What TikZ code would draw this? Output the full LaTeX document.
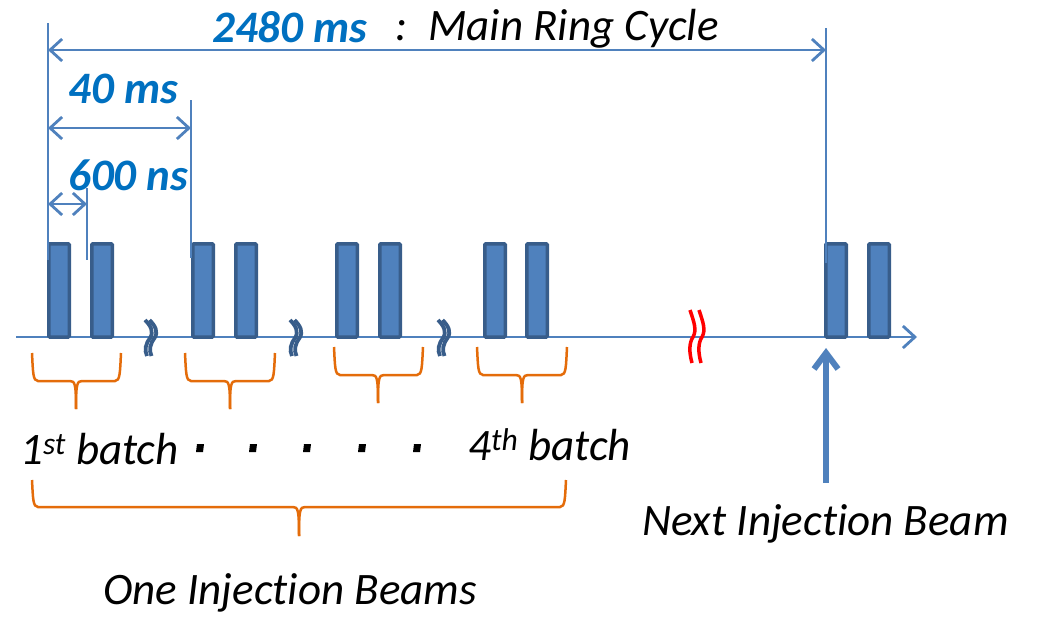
\documentclass[tikz,border=0pt]{standalone}
\usepackage{fontspec}
\setmainfont{Carlito}[Ligatures=NoCommon]
\usetikzlibrary{arrows.meta}
\definecolor{lblue}{HTML}{4F81BD}
\definecolor{bdark}{HTML}{385D8A}
\definecolor{tblue}{HTML}{0070C0}
\definecolor{oran}{HTML}{E46C0A}
\begin{document}
\begin{tikzpicture}[x=1pt,y=-1pt,
  dim/.style={lblue, line width=2.8pt},
  barb/.tip={Straight Barb[length=12pt,width=22pt]},
  dimarrow/.style={dim, barb-barb},
  bar/.style={fill=lblue, draw=bdark, line width=3.5pt, rounded corners=1pt},
  br/.style={oran, line width=2.5pt},
  lab/.style={inner sep=0pt, anchor=base west, font=\fontsize{45}{54}\selectfont\itshape},
  blab/.style={lab, text=tblue, font=\fontsize{45}{54}\selectfont\itshape\bfseries},
  brkb/.style={bdark, line width=3.8pt},
  brkr/.style={red, line width=3.5pt},
  dotsq/.style={fill=black, draw=none}]
\useasboundingbox (0,0) rectangle (1041,616);

% axis
\coordinate (axl) at (16,337);
\coordinate (axr) at (917,337);
\draw[dim, -barb] (axl) -- (axr);

% bars
\foreach \x in {47,90,191,234,335,378,483,525,824,867}
  \draw[bar] (\x+1.75,243.75) rectangle (\x+22.25,337);

% break marks
\foreach \c in {150,295,443} {
  \draw[brkb] (\c-5,320) .. controls (\c+1,326) and (\c+4,332) .. (\c,338) .. controls (\c-4,343) and (\c-6,350) .. (\c-3,356);
  \draw[brkb] (\c-0.5,320) .. controls (\c+5.5,326) and (\c+8.5,332) .. (\c+4.5,338) .. controls (\c+0.5,343) and (\c-1.5,350) .. (\c+1.5,356);
}
\draw[brkr] (690,310) .. controls (694,322) and (697,330) .. (693,337) .. controls (689,343) and (689,352) .. (692,363);
\draw[brkr] (699,310) .. controls (703,322) and (706,330) .. (702,337) .. controls (698,343) and (698,352) .. (701,363);

% dimension lines
\coordinate (v1t) at (48,23);   \coordinate (v1b) at (48,260);
\coordinate (v2t) at (826,28);  \coordinate (v2b) at (826,263);
\coordinate (v3t) at (191,100); \coordinate (v3b) at (191,258);
\coordinate (v4t) at (87,188);  \coordinate (v4b) at (87,260);
\draw[dim] (v1t) -- (v1b);
\draw[dim] (v2t) -- (v2b);
\draw[dim] (v3t) -- (v3b);
\draw[dim] (v4t) -- (v4b);
\coordinate (a1l) at (48,50);  \coordinate (a1r) at (826,50);
\coordinate (a2l) at (48,128); \coordinate (a2r) at (191,128);
\coordinate (a3l) at (48,204); \coordinate (a3r) at (87,204);
\draw[dimarrow] (a1l) -- (a1r);
\draw[dimarrow] (a2l) -- (a2r);
\draw[dimarrow] (a3l) -- (a3r);

% labels top
\node[blab] (t2480) at (212,42) {2480 ms};
\node[lab] (tcolon) at (395,40) {:};
\node[lab] (tmain) at (428,40) {Main Ring Cycle};
\node[blab] (t40) at (68,103) {40 ms};
\node[blab] (t600) at (68,190) {600 ns};

% small braces
\foreach \xa/\xb/\tx/\top/\h/\tip in {32/121/76/353/381/409, 185/275/230/353/381/409, 334/423/378/347/375/403, 477/567/522/347/375/403} {
  \draw[br] (\xa,\top) .. controls (\xa+1,\h-8) and (\xa+1,\h) .. (\xa+6,\h) -- (\tx-6,\h) .. controls (\tx-1,\h) and (\tx,\h+3) .. (\tx,\tip);
  \draw[br] (\xb,\top) .. controls (\xb-1,\h-8) and (\xb-1,\h) .. (\xb-6,\h) -- (\tx+6,\h) .. controls (\tx+1,\h) and (\tx,\h+3) .. (\tx,\tip);
}

% batch labels and dots
\node[lab] (b1) at (20,464) {1\textsuperscript{st} batch};
\node[lab] (b4) at (468,460) {4\textsuperscript{th} batch};
\foreach \x in {200,253,307,362,417}
  \fill[dotsq] (\x-3,444) -- (\x+4,444) -- (\x+3,452) -- (\x-4,452) -- cycle;

% big brace
\draw[br] (32,480) .. controls (33,499) and (33,507) .. (38,507) -- (293,507) .. controls (298,507) and (299,510) .. (299,536);
\draw[br] (566,480) .. controls (565,499) and (565,507) .. (560,507) -- (305,507) .. controls (300,507) and (299,510) .. (299,536);
\node[lab] (one) at (103,604) {One Injection Beams};

% next injection arrow
\node[lab] (next) at (642,535) {Next Injection Beam};
\coordinate (upb) at (826,483);
\coordinate (upt) at (826,348);
\draw[lblue, line width=6pt, -{Straight Barb[length=16pt,width=24pt]}] (upb) -- (upt);
\end{tikzpicture}
\end{document}
